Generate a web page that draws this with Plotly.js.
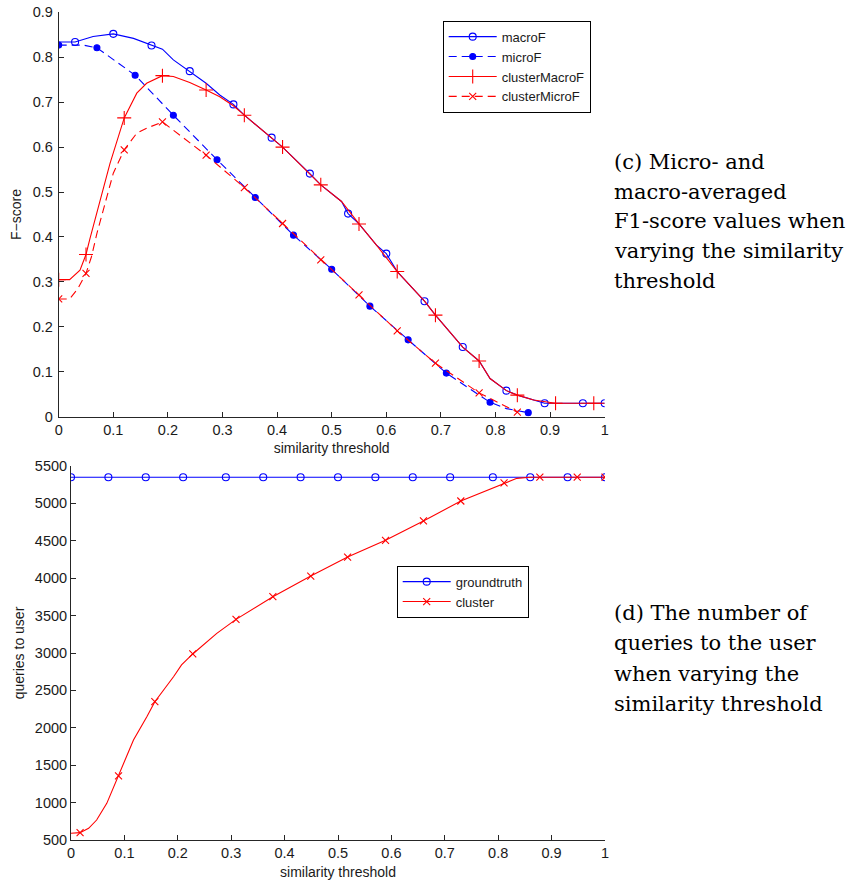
<!DOCTYPE html>
<html><head><meta charset="utf-8">
<script src="https://cdn.plot.ly/plotly-3.0.1.min.js"></script>
<style>html,body{margin:0;padding:0;background:#fff}#chart{width:850px;height:882px}</style>
</head><body><div id="chart"></div>
<script>
// ---------- (c) F-score vs similarity threshold ----------
const macroF_x = [0, 0.03, 0.063, 0.10, 0.137, 0.17, 0.19, 0.21, 0.24, 0.27, 0.295, 0.32, 0.34, 0.39, 0.41, 0.46, 0.48, 0.518, 0.53, 0.55, 0.582, 0.60, 0.62, 0.67, 0.69, 0.74, 0.77, 0.79, 0.82, 0.84, 0.87, 0.89, 0.96, 1.0];
const macroF_y = [0.834, 0.834, 0.846, 0.852, 0.842, 0.826, 0.818, 0.794, 0.769, 0.742, 0.716, 0.695, 0.671, 0.621, 0.600, 0.541, 0.516, 0.479, 0.452, 0.429, 0.382, 0.363, 0.323, 0.257, 0.226, 0.155, 0.124, 0.085, 0.058, 0.048, 0.037, 0.030, 0.030, 0.030];
const macroF_marks = [0.03, 0.10, 0.17, 0.24, 0.32, 0.39, 0.46, 0.53, 0.60, 0.67, 0.74, 0.82, 0.89, 0.96, 1.0];

const microF_x = [0, 0.045, 0.07, 0.14, 0.21, 0.29, 0.36, 0.43, 0.50, 0.57, 0.64, 0.71, 0.79, 0.82, 0.86];
const microF_y = [0.827, 0.827, 0.821, 0.760, 0.671, 0.572, 0.488, 0.404, 0.328, 0.246, 0.171, 0.097, 0.032, 0.018, 0.009];
const microF_marks = [0, 0.07, 0.14, 0.21, 0.29, 0.36, 0.43, 0.50, 0.57, 0.64, 0.71, 0.79, 0.86];

const clusterMacroF_x = [0, 0.02, 0.039, 0.05, 0.057, 0.076, 0.094, 0.12, 0.143, 0.161, 0.19, 0.21, 0.24, 0.27, 0.295, 0.32, 0.34, 0.41, 0.48, 0.518, 0.55, 0.582, 0.62, 0.67, 0.69, 0.74, 0.77, 0.79, 0.82, 0.84, 0.87, 0.91, 0.98, 1.0];
const clusterMacroF_y = [0.305, 0.305, 0.326, 0.361, 0.395, 0.482, 0.564, 0.665, 0.720, 0.742, 0.759, 0.757, 0.744, 0.727, 0.712, 0.692, 0.671, 0.600, 0.516, 0.479, 0.429, 0.382, 0.323, 0.257, 0.226, 0.155, 0.124, 0.085, 0.058, 0.048, 0.037, 0.030, 0.030, 0.030];
const clusterMacroF_marks = [0, 0.05, 0.12, 0.19, 0.27, 0.34, 0.41, 0.48, 0.55, 0.62, 0.69, 0.77, 0.84, 0.91, 0.98];

const clusterMicroF_x = [0, 0.02, 0.035, 0.05, 0.06, 0.07, 0.10, 0.12, 0.143, 0.161, 0.19, 0.21, 0.234, 0.27, 0.34, 0.41, 0.48, 0.55, 0.62, 0.69, 0.77, 0.84];
const clusterMicroF_y = [0.262, 0.262, 0.285, 0.319, 0.356, 0.408, 0.542, 0.594, 0.631, 0.642, 0.656, 0.638, 0.616, 0.582, 0.510, 0.430, 0.349, 0.271, 0.191, 0.119, 0.053, 0.010];
const clusterMicroF_marks = [0, 0.05, 0.12, 0.19, 0.27, 0.34, 0.41, 0.48, 0.55, 0.62, 0.69, 0.77, 0.84];

const topTicksX = [0, 0.1, 0.2, 0.3, 0.4, 0.5, 0.6, 0.7, 0.8, 0.9, 1];
const topTicksY = [0, 0.1, 0.2, 0.3, 0.4, 0.5, 0.6, 0.7, 0.8, 0.9];

// ---------- (d) queries to user ----------
const groundtruth_x = [0, 0.07, 0.14, 0.21, 0.29, 0.36, 0.43, 0.50, 0.57, 0.64, 0.71, 0.79, 0.86, 0.93, 1.0];
const groundtruth_y = [5350, 5350, 5350, 5350, 5350, 5350, 5350, 5350, 5350, 5350, 5350, 5350, 5350, 5350, 5350];
const groundtruth_marks = [0, 0.07, 0.14, 0.21, 0.29, 0.36, 0.43, 0.50, 0.57, 0.64, 0.71, 0.79, 0.86, 0.93, 1.0];

const cluster_x = [0, 0.017, 0.033, 0.048, 0.067, 0.089, 0.117, 0.142, 0.157, 0.192, 0.207, 0.228, 0.248, 0.273, 0.309, 0.378, 0.449, 0.518, 0.589, 0.66, 0.73, 0.772, 0.811, 0.835, 0.86, 0.878, 0.948, 1.0];
const cluster_y = [590, 598, 656, 767, 990, 1356, 1837, 2148, 2349, 2683, 2840, 2987, 3115, 3263, 3450, 3753, 4029, 4283, 4506, 4765, 5032, 5156, 5273, 5335, 5350, 5350, 5350, 5350];
const cluster_marks = [0.017, 0.089, 0.157, 0.228, 0.309, 0.378, 0.449, 0.518, 0.589, 0.66, 0.73, 0.811, 0.878, 0.948, 1.0];

const bottomTicksX = [0, 0.1, 0.2, 0.3, 0.4, 0.5, 0.6, 0.7, 0.8, 0.9, 1];
const bottomTicksY = [500, 1000, 1500, 2000, 2500, 3000, 3500, 4000, 4500, 5000, 5500];

const captionC = ['(c) Micro- and', 'macro-averaged', 'F1-score values when', 'varying the similarity', 'threshold'];
const captionD = ['(d) The number of', 'queries to the user', 'when varying the', 'similarity threshold'];

// ---------- build traces ----------
const BLUE = 'rgb(0,0,255)', RED = 'rgb(255,0,0)';
function series(xs, ys, marks, name, color, dash, symbol, msize, xa, ya, leg) {
  const my = marks.map(m => ys[xs.indexOf(m)]);
  const mk = {symbol: symbol, size: msize, color: color, line: {color: color, width: 1.1}};
  const ln = {color: color, width: 1.1, dash: dash};
  return [
    {type: 'scatter', mode: 'lines', x: xs, y: ys, xaxis: xa, yaxis: ya, line: ln, showlegend: false, hoverinfo: 'skip'},
    {type: 'scatter', mode: 'markers', x: marks, y: my, xaxis: xa, yaxis: ya, marker: mk, showlegend: false, name: name},
    {type: 'scatter', mode: 'lines+markers', x: [null], y: [null], xaxis: xa, yaxis: ya, line: ln, marker: mk, name: name, legend: leg, showlegend: true}
  ];
}
const DASH = '8px,5px';
const traces = [].concat(
  series(macroF_x, macroF_y, macroF_marks, 'macroF', BLUE, 'solid', 'circle-open', 7, 'x', 'y', 'legend'),
  series(microF_x, microF_y, microF_marks, 'microF', BLUE, DASH, 'circle', 6, 'x', 'y', 'legend'),
  series(clusterMacroF_x, clusterMacroF_y, clusterMacroF_marks, 'clusterMacroF', RED, 'solid', 'cross-thin-open', 10, 'x', 'y', 'legend'),
  series(clusterMicroF_x, clusterMicroF_y, clusterMicroF_marks, 'clusterMicroF', RED, DASH, 'x-thin-open', 7, 'x', 'y', 'legend'),
  series(groundtruth_x, groundtruth_y, groundtruth_marks, 'groundtruth', BLUE, 'solid', 'circle-open', 7, 'x2', 'y2', 'legend2'),
  series(cluster_x, cluster_y, cluster_marks, 'cluster', RED, 'solid', 'x-thin-open', 7, 'x2', 'y2', 'legend2')
);

const SANS = 'Liberation Sans, Arial, Helvetica, sans-serif';
const TXT = '#1a1a1a', AX = '#262626';
const axisCommon = {
  showline: true, linecolor: AX, linewidth: 1, mirror: false,
  ticks: 'inside', ticklen: 5, tickwidth: 1, tickcolor: AX,
  showgrid: false, zeroline: false,
  tickfont: {family: SANS, size: 14.5, color: TXT}
};
const W = 850, H = 882;
function px(x) { return x / W; }
function py(y) { return (H - y) / H; }

const annotations = [];
captionC.forEach((t, i) => annotations.push({
  xref: 'paper', yref: 'paper', x: px(612), y: py(162 + i * 29.7), xanchor: 'left', yanchor: 'middle',
  showarrow: false, text: t, font: {family: 'DejaVu Serif, serif', size: 21, color: '#000'}
}));
captionD.forEach((t, i) => annotations.push({
  xref: 'paper', yref: 'paper', x: px(612), y: py(613 + i * 30.3), xanchor: 'left', yanchor: 'middle',
  showarrow: false, text: t, font: {family: 'DejaVu Serif, serif', size: 21, color: '#000'}
}));

const layout = {
  width: W, height: H, margin: {l: 0, r: 0, t: 0, b: 0},
  paper_bgcolor: '#fff', plot_bgcolor: '#fff',
  font: {family: SANS, size: 14, color: TXT},
  xaxis: Object.assign({}, axisCommon, {
    domain: [px(58.7), px(604.7)], range: [0, 1], anchor: 'y',
    tickmode: 'array', tickvals: topTicksX, ticktext: topTicksX.map(String), ticklabelstandoff: 0,
    title: {text: 'similarity threshold', font: {family: SANS, size: 14, color: TXT}, standoff: 6}
  }),
  yaxis: Object.assign({}, axisCommon, {
    domain: [py(416.7), py(12.3)], range: [0, 0.9], anchor: 'x',
    tickmode: 'array', tickvals: topTicksY, ticktext: topTicksY.map(String), ticklabelstandoff: 2,
    title: {text: 'F\u2212score', font: {family: SANS, size: 14, color: TXT}, standoff: 7}
  }),
  xaxis2: Object.assign({}, axisCommon, {
    domain: [px(71), px(605)], range: [0, 1], anchor: 'y2',
    tickmode: 'array', tickvals: bottomTicksX, ticktext: bottomTicksX.map(String), ticklabelstandoff: 0,
    title: {text: 'similarity threshold', font: {family: SANS, size: 14, color: TXT}, standoff: 6}
  }),
  yaxis2: Object.assign({}, axisCommon, {
    domain: [py(840), py(466)], range: [500, 5500], anchor: 'x2',
    tickmode: 'array', tickvals: bottomTicksY, ticktext: bottomTicksY.map(String), ticklabelstandoff: 0,
    title: {text: 'queries to user', font: {family: SANS, size: 14, color: TXT}, standoff: 6}
  }),
  legend: {x: px(442.7), y: py(20.7), xanchor: 'left', yanchor: 'top', bgcolor: '#fff', itemwidth: 48,
    bordercolor: '#000', borderwidth: 1, font: {family: SANS, size: 13, color: TXT}, traceorder: 'normal'},
  legend2: {x: px(396.7), y: py(565.7), xanchor: 'left', yanchor: 'top', bgcolor: '#fff', itemwidth: 48,
    bordercolor: '#000', borderwidth: 1, font: {family: SANS, size: 13, color: TXT}, traceorder: 'normal'},
  annotations: annotations
};

Plotly.newPlot('chart', traces, layout, {displayModeBar: false, staticPlot: true});
</script>
</body></html>
